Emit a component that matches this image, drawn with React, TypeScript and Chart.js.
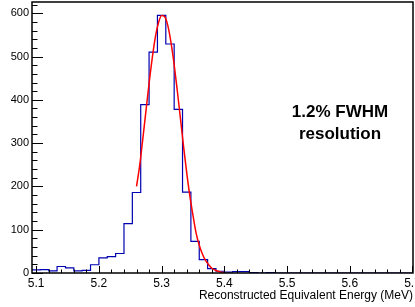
import React, { useEffect, useRef } from 'react';
import { Chart, registerables } from 'chart.js';

Chart.register(...registerables);

// Histogram binning (MeV)
const binLowEdge = 5.093333;
const binWidth = 1 / 75;
// Counts per bin
const counts = [
  7, 8, 5, 15, 12, 5, 6, 19, 35, 38, 45, 114, 186, 389, 510, 595, 529, 378, 187, 73,
  31, 10, 4, 2, 3, 3, 1, 0, 1, 0, 0, 0, 0, 0, 0, 0, 0, 0, 0, 0, 0, 0, 0, 0, 0, 0,
];

// Gaussian fit curve
const fitX = [
  5.26, 5.265, 5.27, 5.275, 5.28, 5.285, 5.29, 5.295, 5.3, 5.305, 5.31, 5.315, 5.32, 5.325,
  5.33, 5.335, 5.34, 5.345, 5.35, 5.355, 5.36, 5.365, 5.37, 5.375, 5.38, 5.385, 5.39, 5.395, 5.4,
];
const fitY = [
  200, 248, 310, 374, 438, 496, 545, 578, 595, 592, 571, 532, 481, 421,
  357, 292, 232, 178, 133, 92, 64, 44, 29, 19, 11, 7, 4, 2, 1,
];

const xTicks = [5.1, 5.2, 5.3, 5.4, 5.5, 5.6, 5.7];
const yTicks = [0, 100, 200, 300, 400, 500, 600];
const xRange = [5.093333, 5.7008];
const yRange = [0, 626];
const xMinorStep = 0.02;
const yMinorStep = 20;

const axisTitle = 'Reconstructed Equivalent Energy (MeV)';
const noteLines = ['1.2% FWHM', 'resolution'];

const FONT = '"Liberation Sans", Arial, Helvetica, sans-serif';

const framePlugin = {
  id: 'rootFrame',
  afterDatasetsDraw(chart: any) {
    const { ctx, chartArea } = chart;
    const xs = chart.scales.x;
    const ys = chart.scales.y;
    const { left, right, top, bottom } = chartArea;
    ctx.save();
    ctx.strokeStyle = '#000';
    // ticks on y axis (inward)
    ctx.lineWidth = 1;
    ctx.beginPath();
    for (let v = yRange[0]; v <= yRange[1] + 1e-9; v += yMinorStep) {
      const y = Math.round(ys.getPixelForValue(v)) + 0.5;
      const major = Math.abs(v % 100) < 1e-6;
      const len = major ? 11 : 5.5;
      ctx.moveTo(left, y);
      ctx.lineTo(left + len, y);
    }
    // ticks on x axis (inward)
    const start = Math.ceil((xRange[0] - 1e-9) / xMinorStep) * xMinorStep;
    for (let v = start; v <= xRange[1] + 1e-9; v += xMinorStep) {
      const x = Math.round(xs.getPixelForValue(v)) + 0.5;
      const r = Math.round(v * 10) / 10;
      const major = Math.abs(v - r) < 1e-6;
      const len = major ? 7 : 3.5;
      ctx.moveTo(x, bottom);
      ctx.lineTo(x, bottom - len);
    }
    ctx.stroke();
    // frame
    ctx.lineWidth = 1.5;
    ctx.strokeRect(left, top, right - left, bottom - top);
    ctx.restore();
  },
};

export default function App() {
  const canvasRef = useRef<HTMLCanvasElement | null>(null);

  useEffect(() => {
    const canvas = canvasRef.current;
    if (!canvas) return;

    const histPoints = counts.map((c, i) => ({ x: binLowEdge + i * binWidth, y: c }));
    histPoints.push({ x: binLowEdge + counts.length * binWidth, y: counts[counts.length - 1] });
    const fitPoints = fitX.map((x, i) => ({ x, y: fitY[i] }));

    const chart = new Chart(canvas, {
      type: 'line',
      data: {
        datasets: [
          {
            label: 'fit',
            data: fitPoints,
            borderColor: '#ff0000',
            borderWidth: 1.5,
            pointRadius: 0,
            fill: false,
            cubicInterpolationMode: 'monotone',
          },
          {
            label: 'hist',
            data: histPoints,
            stepped: 'before',
            borderColor: '#0000b0',
            borderWidth: 1.2,
            pointRadius: 0,
            fill: false,
          },
        ],
      },
      options: {
        animation: false,
        responsive: false,
        maintainAspectRatio: false,
        devicePixelRatio: 1,
        layout: { padding: { top: 2, right: 2, left: 0, bottom: 0 } },
        plugins: {
          legend: { display: false },
          tooltip: { enabled: false },
        },
        scales: {
          x: {
            type: 'linear',
            min: xRange[0],
            max: xRange[1],
            grid: { display: false, drawTicks: false },
            border: { display: false },
            ticks: {
              color: '#000',
              padding: 3,
              maxRotation: 0,
              autoSkip: false,
              font: { family: FONT, size: 12 },
              callback: (v: any) => Number(v).toFixed(1),
            },
            afterBuildTicks: (s: any) => {
              s.ticks = xTicks.map((v) => ({ value: v }));
            },
            afterFit: (s: any) => {
              s.height = 34;
              s.paddingLeft = 0;
              s.paddingRight = 0;
            },
            title: {
              display: true,
              text: axisTitle,
              align: 'end',
              color: '#000',
              font: { family: FONT, size: 12 },
              padding: { top: 0, bottom: 4 },
            },
          },
          y: {
            type: 'linear',
            min: yRange[0],
            max: yRange[1],
            grid: { display: false, drawTicks: false },
            border: { display: false },
            ticks: {
              color: '#000',
              padding: 3,
              font: { family: FONT, size: 11 },
              callback: (v: any) => String(v),
            },
            afterBuildTicks: (s: any) => {
              s.ticks = yTicks.map((v) => ({ value: v }));
            },
            afterFit: (s: any) => {
              s.width = 32;
              s.paddingTop = 0;
              s.paddingBottom = 0;
            },
          },
        },
      },
      plugins: [framePlugin],
    });

    return () => chart.destroy();
  }, []);

  return (
    <div style={{ position: 'fixed', left: 0, top: 0, width: 415, height: 307, background: '#fff' }}>
      <canvas ref={canvasRef} width={415} height={307} style={{ width: 415, height: 307, display: 'block' }} />
      <div
        style={{
          position: 'absolute',
          left: 280,
          width: 120,
          top: 101,
          textAlign: 'center',
          fontFamily: FONT,
          fontWeight: 'bold',
          fontSize: 17,
          lineHeight: '21.6px',
          color: '#000',
          pointerEvents: 'none',
        }}
      >
        {noteLines.map((l) => (
          <div key={l}>{l}</div>
        ))}
      </div>
    </div>
  );
}
